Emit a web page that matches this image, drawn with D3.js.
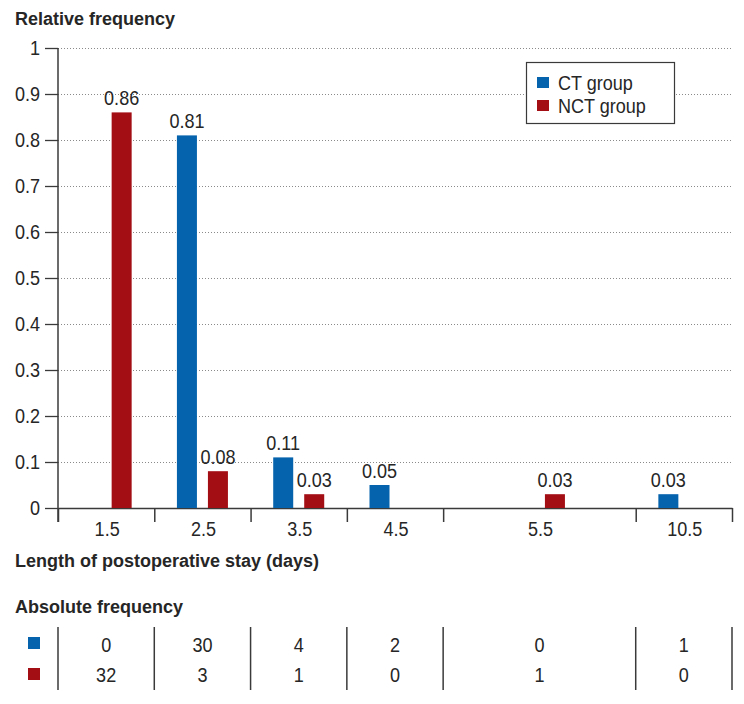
<!DOCTYPE html>
<html>
<head>
<meta charset="utf-8">
<script src="https://cdn.jsdelivr.net/npm/d3@7"></script>
<style>
  html, body { margin: 0; padding: 0; background: #fff; }
  svg { display: block; }
  text { font-family: "Liberation Sans", Arial, Helvetica, sans-serif; fill: #262626; }
</style>
</head>
<body>
<svg id="chart" width="744" height="704"></svg>
<script>
// ---- data ----
const categories = ["1.5", "2.5", "3.5", "4.5", "5.5", "10.5"];
const categorySpan = [1, 1, 1, 1, 2, 1];
const seriesNames = ["CT group", "NCT group"];
const ctRelative = [0, 0.81, 0.11, 0.05, 0, 0.03];
const nctRelative = [0.86, 0.08, 0.03, 0, 0.03, 0];
const ctAbsolute = [0, 30, 4, 2, 0, 1];
const nctAbsolute = [32, 3, 1, 0, 1, 0];
const yTicks = [0, 0.1, 0.2, 0.3, 0.4, 0.5, 0.6, 0.7, 0.8, 0.9, 1];
const colors = ["#0563ad", "#a30d14"];

(function () {
// ---- layout ----
const svg = d3.select("#chart");
const pLeft = 58, pRight = 732, pTop = 48, pBottom = 508;
const axisColor = "#3a3a3a";
const fs = 20.5, sx = 0.88;

// narrow text helper: positions via transform so glyphs can be condensed
function narrow(sel, fx, fy) {
  sel.attr("font-size", fs)
    .attr("transform", (d, i) => `translate(${fx(d, i)},${fy(d, i)}) scale(${sx},1)`);
  return sel;
}

// category boundaries in units
const bounds = [0];
categorySpan.forEach((s, i) => bounds.push(bounds[i] + s));
const x = d3.scaleLinear().domain([0, bounds[bounds.length - 1]]).range([pLeft, pRight]);
const y = d3.scaleLinear().domain([0, 1]).range([pBottom, pTop]);
const centers = categories.map((c, i) => x((bounds[i] + bounds[i + 1]) / 2));

// title
svg.append("text").attr("x", 15).attr("y", 25)
  .attr("font-size", 18).attr("font-weight", "bold").text("Relative frequency");

// gridlines
svg.append("g").selectAll("line").data(yTicks.filter(d => d > 0)).join("line")
  .attr("x1", pLeft).attr("x2", pRight - 1)
  .attr("y1", d => Math.round(y(d)) + 0.5).attr("y2", d => Math.round(y(d)) + 0.5)
  .attr("stroke", "#8a8a8a").attr("stroke-width", 1).attr("stroke-dasharray", "1,2");

// y axis
const yAxis = d3.axisLeft(y).tickValues(yTicks).tickSize(13).tickFormat("");
const gy = svg.append("g").attr("transform", `translate(${pLeft},0)`).call(yAxis);
gy.select(".domain").remove();
gy.selectAll(".tick line").attr("stroke", axisColor).attr("stroke-width", 1.3);
svg.append("line").attr("x1", pLeft).attr("x2", pLeft).attr("y1", pTop).attr("y2", pBottom + 14)
  .attr("stroke", axisColor).attr("stroke-width", 1.5);
narrow(svg.append("g").selectAll("text").data(yTicks).join("text")
  .attr("text-anchor", "end").text(d => String(d)),
  () => 40, d => y(d) + 7);

// x axis
const xAxis = d3.axisBottom(x).tickValues(bounds).tickSize(14).tickSizeOuter(0).tickFormat("");
const gx = svg.append("g").attr("transform", `translate(0,${pBottom})`).call(xAxis);
gx.select(".domain").attr("stroke", axisColor).attr("stroke-width", 1.5);
gx.selectAll(".tick line").attr("stroke", axisColor).attr("stroke-width", 1.5);
narrow(svg.append("g").selectAll("text").data(categories).join("text")
  .attr("text-anchor", "middle").text(d => d),
  (d, i) => centers[i] + 1, () => 536);

// bars
const barW = 20;
const offsets = [-25.5, 5.5];
const series = [ctRelative, nctRelative];
series.forEach((vals, s) => {
  const g = svg.append("g");
  const data = vals.map((v, i) => ({ v, i })).filter(d => d.v > 0);
  g.selectAll("rect").data(data).join("rect")
    .attr("x", d => centers[d.i] + offsets[s])
    .attr("width", barW)
    .attr("y", d => y(d.v))
    .attr("height", d => y(0) - y(d.v))
    .attr("fill", colors[s]);
  narrow(g.selectAll("text").data(data).join("text")
    .attr("text-anchor", "middle")
    .text(d => d3.format(".2f")(d.v)),
    d => centers[d.i] + offsets[s] + barW / 2, d => y(d.v) - 7);
});

// legend
const lg = svg.append("g");
lg.append("rect").attr("x", 526.5).attr("y", 62.5).attr("width", 148).attr("height", 61)
  .attr("fill", "#fff").attr("stroke", axisColor).attr("stroke-width", 1.2);
lg.selectAll("rect.sw").data(seriesNames).join("rect").attr("class", "sw")
  .attr("x", 537).attr("y", (d, i) => 77 + i * 23).attr("width", 12).attr("height", 11)
  .attr("fill", (d, i) => colors[i]);
narrow(lg.selectAll("text").data(seriesNames).join("text").text(d => d),
  () => 558, (d, i) => 90 + i * 23);

// x title
svg.append("text").attr("x", 15).attr("y", 567)
  .attr("font-size", 18).attr("font-weight", "bold").text("Length of postoperative stay (days)");
svg.append("text").attr("x", 15).attr("y", 613)
  .attr("font-size", 18).attr("font-weight", "bold").text("Absolute frequency");

// absolute frequency table
const tg = svg.append("g");
tg.selectAll("line").data(bounds).join("line")
  .attr("x1", d => x(d)).attr("x2", d => x(d))
  .attr("y1", 627).attr("y2", 690)
  .attr("stroke", axisColor).attr("stroke-width", 1.5);
[ctAbsolute, nctAbsolute].forEach((vals, r) => {
  tg.append("rect").attr("x", 28).attr("y", 637 + r * 31).attr("width", 12).attr("height", 12).attr("fill", colors[r]);
  narrow(tg.append("g").selectAll("text").data(vals).join("text")
    .attr("text-anchor", "middle").text(d => d),
    (d, i) => centers[i], () => 652 + r * 30);
});
})();
</script>
</body>
</html>
